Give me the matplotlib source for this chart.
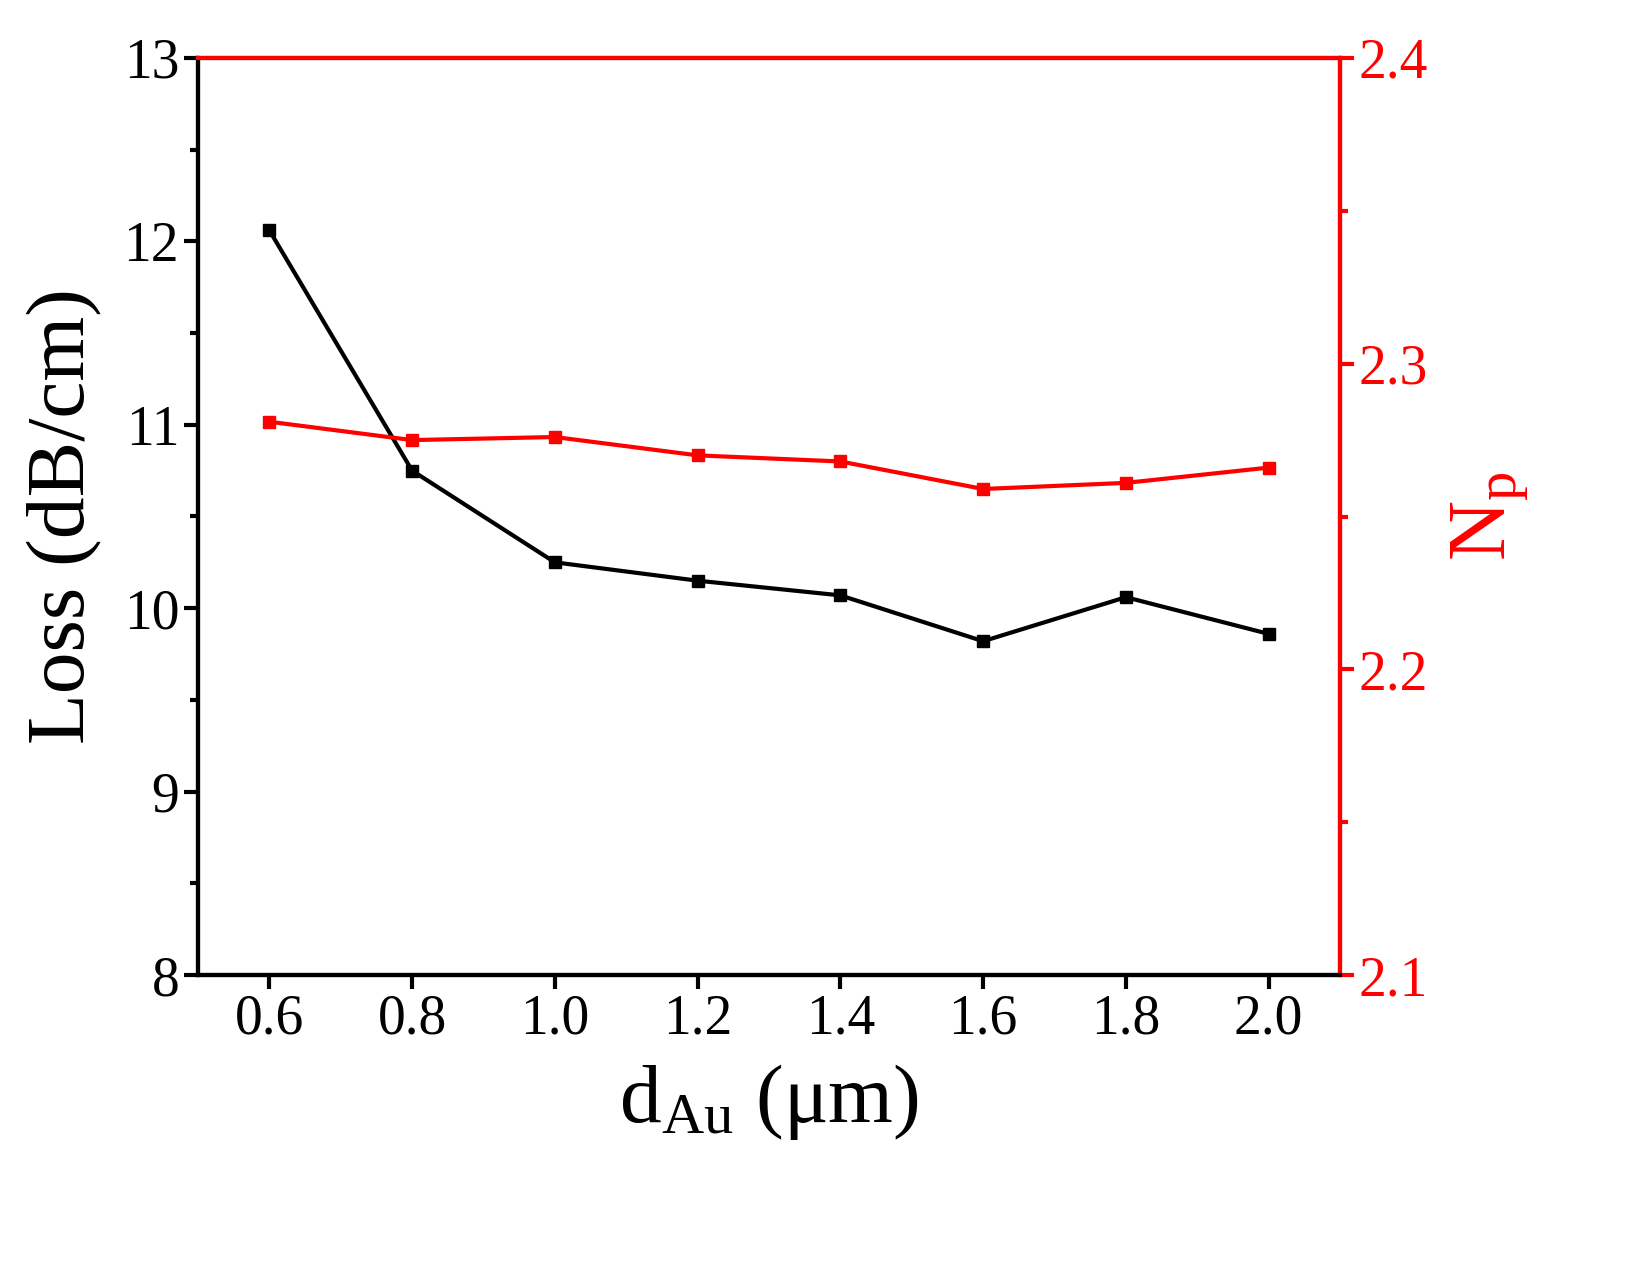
import matplotlib
matplotlib.use("Agg")
import matplotlib.pyplot as plt

d_au = [0.6, 0.8, 1.0, 1.2, 1.4, 1.6, 1.8, 2.0]
loss = [12.06, 10.75, 10.25, 10.15, 10.07, 9.82, 10.06, 9.86]
n_p = [2.281, 2.275, 2.276, 2.270, 2.268, 2.259, 2.261, 2.266]
x_ticks = [0.6, 0.8, 1.0, 1.2, 1.4, 1.6, 1.8, 2.0]

plt.rcParams["font.family"] = "Liberation Serif"
plt.rcParams["mathtext.fontset"] = "custom"
plt.rcParams["mathtext.rm"] = "Liberation Serif"
plt.rcParams["mathtext.it"] = "Liberation Serif"

fig = plt.figure(figsize=(16.37, 12.61), dpi=100)
ax = fig.add_axes([198/1637, 1 - 975/1261, (1340-198)/1637, (975-58)/1261])
ax.plot(d_au, loss, color="black", marker="s", ms=8, lw=3)
ax.set_xlim(0.5, 2.1)
ax.set_ylim(8, 13)
ax.set_xticks(x_ticks)
ax.set_xticklabels([f"{v:.1f}" for v in x_ticks])
ax.set_yticks([8, 9, 10, 11, 12, 13])
ax.set_yticks([8.5, 9.5, 10.5, 11.5, 12.5], minor=True)
ax.tick_params(axis="both", which="major", labelsize=40, width=3, length=10, direction="out")
ax.tick_params(axis="y", which="minor", width=3, length=6)
ax.set_xlabel(r"d$_{\mathrm{Au}}$ (μm)", fontsize=60, labelpad=12)
ax.set_ylabel("Loss (dB/cm)", fontsize=60, labelpad=15)
for s in ax.spines.values():
    s.set_linewidth(3)

ax2 = ax.twinx()
ax2.plot(d_au, n_p, color="red", marker="s", ms=8, lw=3)
ax2.set_ylim(2.1, 2.4)
ax2.set_yticks([2.1, 2.2, 2.3, 2.4])
ax2.set_yticks([2.15, 2.25, 2.35], minor=True)
ax2.tick_params(axis="y", which="major", labelsize=40, width=3, length=10, colors="red")
ax2.tick_params(axis="y", which="minor", width=3, length=6, colors="red")
ax2.set_ylabel(r"N$_{\mathrm{p}}$", fontsize=60, color="red", labelpad=15)
for s in ax2.spines.values():
    s.set_linewidth(3)
ax2.spines["right"].set_color("red")
ax2.spines["top"].set_color("red")

fig.savefig("out.png", dpi=100)
